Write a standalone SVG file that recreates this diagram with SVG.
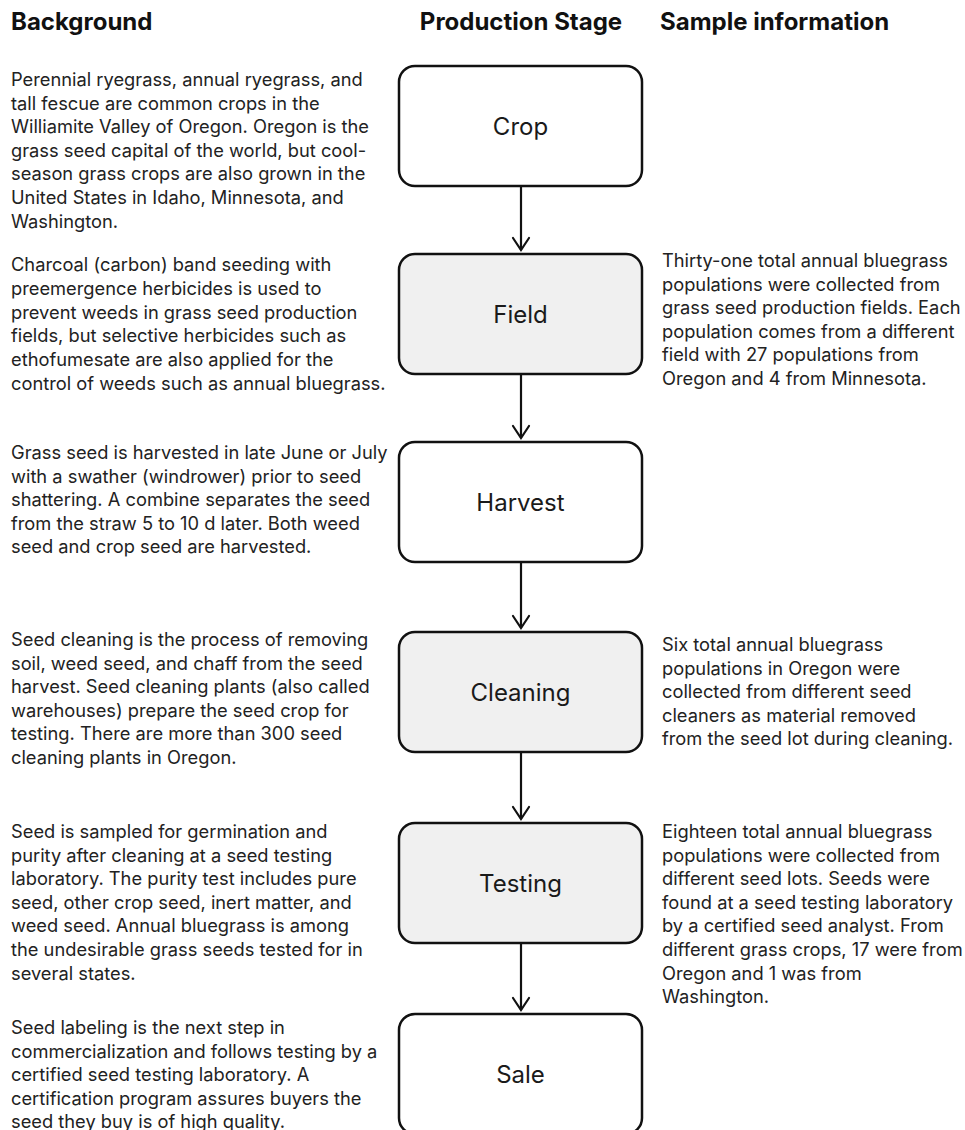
<svg xmlns="http://www.w3.org/2000/svg" width="965" height="1130" viewBox="0 0 965 1130">
<style>
.bg{fill:#ffffff}
.hd{font-family:Inter,"Liberation Sans",sans-serif;font-weight:700;font-size:24px;fill:#111}
.tx{font-family:Inter,"Liberation Sans",sans-serif;font-size:18.3px;fill:#222}
.box{stroke:#111;stroke-width:2.5}
.w{fill:#ffffff}
.g{fill:#f0f0f0}
.lbl{font-family:Inter,"Liberation Sans",sans-serif;font-size:24px;fill:#1a1a1a;text-anchor:middle}
.conn{stroke:#111;stroke-width:2.2;fill:none}
</style>
<defs>
<marker id="ah" viewBox="-14 -10 16 20" refX="0" refY="0" markerWidth="16" markerHeight="20" markerUnits="userSpaceOnUse" orient="auto">
<path d="M-12,-8 L0,0 L-12,8" fill="none" stroke="#111" stroke-width="2.2" stroke-linecap="round"/>
</marker>
</defs>
<rect class="bg" x="0" y="0" width="965" height="1130"/>

<g id="headers">
<text class="hd" x="11" y="30">Background</text>
<text class="hd" x="521" y="30" text-anchor="middle">Production Stage</text>
<text class="hd" x="660" y="30">Sample information</text>
</g>

<g id="connectors">
<line class="conn" x1="521" y1="186" x2="521" y2="250" marker-end="url(#ah)"/>
<line class="conn" x1="521" y1="374" x2="521" y2="438" marker-end="url(#ah)"/>
<line class="conn" x1="521" y1="562" x2="521" y2="628" marker-end="url(#ah)"/>
<line class="conn" x1="521" y1="752" x2="521" y2="819" marker-end="url(#ah)"/>
<line class="conn" x1="521" y1="943" x2="521" y2="1010" marker-end="url(#ah)"/>
</g>

<g id="node-crop">
<rect class="box w" x="399" y="66" width="243" height="120" rx="16"/>
<text class="lbl" x="520.5" y="135">Crop</text>
</g>
<g id="node-field">
<rect class="box g" x="399" y="254" width="243" height="120" rx="16"/>
<text class="lbl" x="520.5" y="323">Field</text>
</g>
<g id="node-harvest">
<rect class="box w" x="399" y="442" width="243" height="120" rx="16"/>
<text class="lbl" x="520.5" y="511">Harvest</text>
</g>
<g id="node-cleaning">
<rect class="box g" x="399" y="632" width="243" height="120" rx="16"/>
<text class="lbl" x="520.5" y="701">Cleaning</text>
</g>
<g id="node-testing">
<rect class="box g" x="399" y="823" width="243" height="120" rx="16"/>
<text class="lbl" x="520.5" y="892">Testing</text>
</g>
<g id="node-sale">
<rect class="box w" x="399" y="1014" width="243" height="120" rx="16"/>
<text class="lbl" x="520.5" y="1083">Sale</text>
</g>

<g id="background-text">
<text class="tx" x="11" y="86">Perennial ryegrass, annual ryegrass, and</text>
<text class="tx" x="11" y="109.6">tall fescue are common crops in the</text>
<text class="tx" x="11" y="133.2">Williamite Valley of Oregon. Oregon is the</text>
<text class="tx" x="11" y="156.8">grass seed capital of the world, but cool-</text>
<text class="tx" x="11" y="180.4">season grass crops are also grown in the</text>
<text class="tx" x="11" y="204">United States in Idaho, Minnesota, and</text>
<text class="tx" x="11" y="227.6">Washington.</text>

<text class="tx" x="11" y="271">Charcoal (carbon) band seeding with</text>
<text class="tx" x="11" y="294.8">preemergence herbicides is used to</text>
<text class="tx" x="11" y="318.6">prevent weeds in grass seed production</text>
<text class="tx" x="11" y="342.4">fields, but selective herbicides such as</text>
<text class="tx" x="11" y="366.2">ethofumesate are also applied for the</text>
<text class="tx" x="11" y="390">control of weeds such as annual bluegrass.</text>

<text class="tx" x="11" y="459">Grass seed is harvested in late June or July</text>
<text class="tx" x="11" y="482.6">with a swather (windrower) prior to seed</text>
<text class="tx" x="11" y="506.2">shattering. A combine separates the seed</text>
<text class="tx" x="11" y="529.8">from the straw 5 to 10 d later. Both weed</text>
<text class="tx" x="11" y="553.4">seed and crop seed are harvested.</text>

<text class="tx" x="11" y="646">Seed cleaning is the process of removing</text>
<text class="tx" x="11" y="669.6">soil, weed seed, and chaff from the seed</text>
<text class="tx" x="11" y="693.2">harvest. Seed cleaning plants (also called</text>
<text class="tx" x="11" y="716.8">warehouses) prepare the seed crop for</text>
<text class="tx" x="11" y="740.4">testing. There are more than 300 seed</text>
<text class="tx" x="11" y="764">cleaning plants in Oregon.</text>

<text class="tx" x="11" y="838">Seed is sampled for germination and</text>
<text class="tx" x="11" y="861.6">purity after cleaning at a seed testing</text>
<text class="tx" x="11" y="885.2">laboratory. The purity test includes pure</text>
<text class="tx" x="11" y="908.8">seed, other crop seed, inert matter, and</text>
<text class="tx" x="11" y="932.4">weed seed. Annual bluegrass is among</text>
<text class="tx" x="11" y="956">the undesirable grass seeds tested for in</text>
<text class="tx" x="11" y="979.6">several states.</text>

<text class="tx" x="11" y="1034">Seed labeling is the next step in</text>
<text class="tx" x="11" y="1057.6">commercialization and follows testing by a</text>
<text class="tx" x="11" y="1081.2">certified seed testing laboratory. A</text>
<text class="tx" x="11" y="1104.8">certification program assures buyers the</text>
<text class="tx" x="11" y="1128.4">seed they buy is of high quality.</text>
</g>

<g id="sample-text">
<text class="tx" x="662" y="267">Thirty-one total annual bluegrass</text>
<text class="tx" x="662" y="290.6">populations were collected from</text>
<text class="tx" x="662" y="314.2">grass seed production fields. Each</text>
<text class="tx" x="662" y="337.8">population comes from a different</text>
<text class="tx" x="662" y="361.4">field with 27 populations from</text>
<text class="tx" x="662" y="385">Oregon and 4 from Minnesota.</text>

<text class="tx" x="662" y="651">Six total annual bluegrass</text>
<text class="tx" x="662" y="674.6">populations in Oregon were</text>
<text class="tx" x="662" y="698.2">collected from different seed</text>
<text class="tx" x="662" y="721.8">cleaners as material removed</text>
<text class="tx" x="662" y="745.4">from the seed lot during cleaning.</text>

<text class="tx" x="662" y="838">Eighteen total annual bluegrass</text>
<text class="tx" x="662" y="861.6">populations were collected from</text>
<text class="tx" x="662" y="885.2">different seed lots. Seeds were</text>
<text class="tx" x="662" y="908.8">found at a seed testing laboratory</text>
<text class="tx" x="662" y="932.4">by a certified seed analyst. From</text>
<text class="tx" x="662" y="956">different grass crops, 17 were from</text>
<text class="tx" x="662" y="979.6">Oregon and 1 was from</text>
<text class="tx" x="662" y="1003.2">Washington.</text>
</g>
</svg>
